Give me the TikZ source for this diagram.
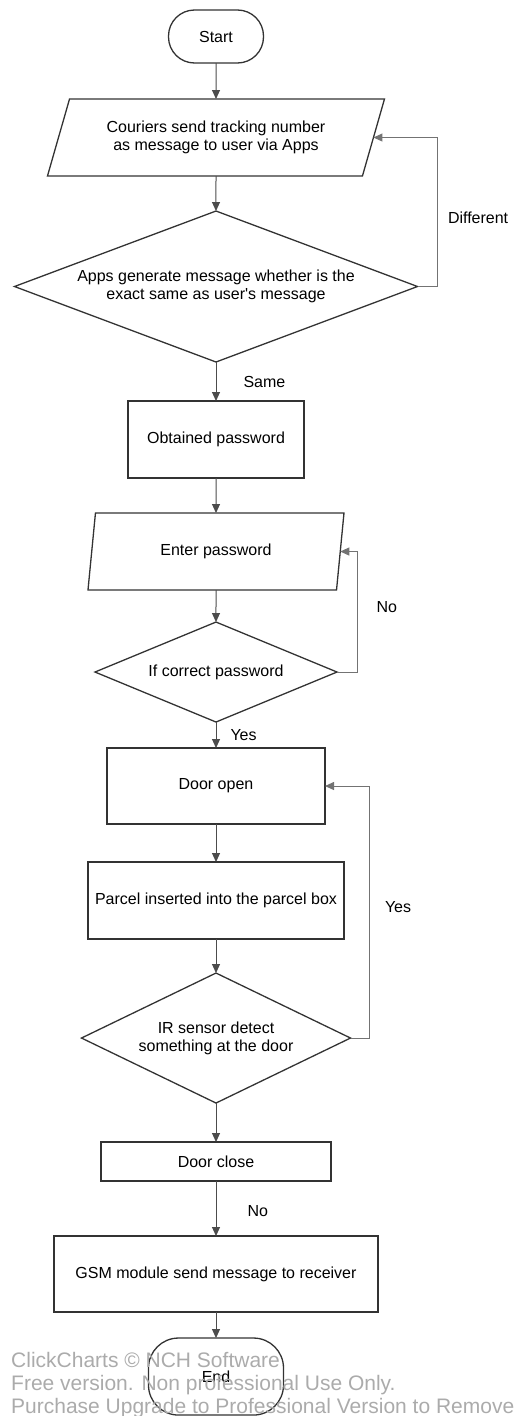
\documentclass[tikz,border=0pt]{standalone}
\usepackage{fontspec}
\newfontfamily\arialfont{Liberation Sans}
\usetikzlibrary{positioning,arrows.meta,shapes.geometric}

\begin{document}
\begin{tikzpicture}[
  x=1pt,y=1pt,
  font=\arialfont\fontsize{16}{18}\selectfont,>={Triangle[length=9pt,width=8pt]},
  term/.style={draw=black!80,line width=1.3pt,rectangle,rounded corners=#1,inner sep=0pt,outer sep=0pt},
  proc/.style={draw=black!80,line width=1.3pt,rectangle,minimum height=77pt,align=center,outer sep=0pt},
  io/.style={draw=black!80,line width=1.3pt,trapezium,trapezium stretches body,minimum height=77pt,align=center,inner sep=0pt,outer sep=0pt},
  dec/.style={draw=black!80,line width=1.3pt,diamond,align=center,inner sep=0pt,outer sep=0pt},
  flow/.style={->,line width=1pt,draw=black!70},
  back/.style={->,line width=1pt,draw=black!55},
  lbl/.style={inner sep=0pt},
  wm/.style={font=\arialfont\fontsize{21}{23}\selectfont,text=black!33,inner sep=0pt,anchor=base west},
]
\useasboundingbox (0,0) rectangle (515,-1416);

% ===== main column =====
\node[term=26pt,minimum width=95pt,minimum height=53pt] (start) at (216,-36.5) {Start};
\node[io,trapezium left angle=56.2,trapezium right angle=123.8,minimum width=337pt,below=36pt of start] (send)
  {Couriers send tracking number\\as message to user via Apps};
\node[dec,shape aspect=2.67,minimum width=403pt,minimum height=151pt,below=35pt of send] (check)
  {Apps generate message whether is the\\exact same as user's message};
\node[proc,minimum width=176pt,below=39pt of check] (obtain) {Obtained password};
\node[io,trapezium left angle=63.4,trapezium right angle=116.6,minimum width=256pt,below=35pt of obtain] (enter)
  {Enter password};
\node[dec,shape aspect=2.42,minimum width=242pt,minimum height=100pt,below=32pt of enter] (pwok) {If correct password};
\node[proc,minimum width=218pt,minimum height=76pt,below=26pt of pwok] (open) {Door open};
\node[proc,minimum width=256pt,below=38pt of open] (insert) {Parcel inserted into the parcel box};
\node[dec,shape aspect=2.07,minimum width=269pt,minimum height=130pt,below=34pt of insert] (sensor)
  {IR sensor detect\\something at the door};
\node[proc,minimum width=230pt,minimum height=39pt,below=39pt of sensor] (close) {Door close};
\node[proc,minimum width=324pt,minimum height=76pt,below=55pt of close] (gsm) {GSM module send message to receiver};
\node[term=30pt,minimum width=135pt,minimum height=77pt,below=26pt of gsm] (stop) {End};

\draw[flow] (start) -- (send);
\draw[flow] (send) -- (check);
\draw[flow] (check) -- node[lbl,right=27pt]{Same} (obtain);
\draw[flow] (obtain) -- (enter);
\draw[flow] (enter) -- (pwok);
\draw[flow] (pwok) -- node[lbl,right=14pt]{Yes} (open);
\draw[flow] (open) -- (insert);
\draw[flow] (insert) -- (sensor);
\draw[flow] (sensor) -- (close);
\draw[flow] (close) -- node[lbl,pos=0.55,right=31pt]{No} (gsm);
\draw[flow] (gsm) -- (stop);

% ===== loops back =====
\draw[back] (check.east) -- ++(20,0) |- node[lbl,pos=0.23,right=10pt]{Different} (send.east);
\draw[back] (pwok.east) -- ++(20,0) |- node[lbl,pos=0.27,right=19pt]{No} (enter.east);
\draw[back] (sensor.east) -- ++(19,0) |- node[lbl,pos=0.26,right=15pt]{Yes} (open.east);

% ===== watermark =====
\node[wm] (wm1) at (11,-1367) {ClickCharts © NCH Software};
\node[wm] (wm2) at (11,-1390) {Free version. Non professional Use Only.};
\node[wm] (wm3) at (11,-1413) {Purchase Upgrade to Professional Version to Remove};
\end{tikzpicture}
\end{document}
